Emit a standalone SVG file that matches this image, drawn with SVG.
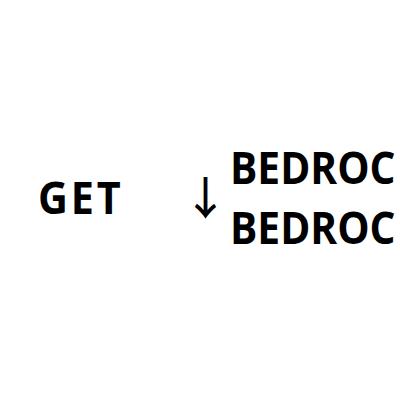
<svg xmlns="http://www.w3.org/2000/svg" width="400" height="400" viewBox="0 0 400 400">
<style>
.t{font-family:"Open Sans",sans-serif;font-weight:bold;font-size:45px;fill:#000}
.a{font-family:"Noto Sans CJK SC",sans-serif;font-weight:500;font-size:45px;fill:#000}
</style>
<rect width="400" height="400" fill="#fff"/>
<g id="get"><text class="t" transform="translate(38,214) scale(0.92,1)" letter-spacing="3">GET</text></g>
<g id="connectors"><text class="a" x="205.5" y="215" text-anchor="middle">↓</text></g>
<g id="bedroc1"><text class="t" transform="translate(230,184) scale(0.905,1)">BEDROC</text></g>
<g id="bedroc2"><text class="t" transform="translate(230,244) scale(0.905,1)">BEDROC</text></g>
</svg>
